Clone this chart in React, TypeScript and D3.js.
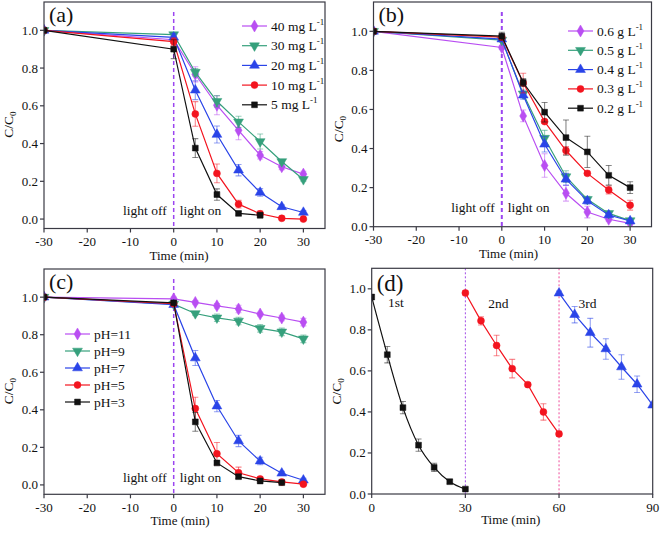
import React from "react";
import * as d3ns from "d3";

const d3: any = (d3ns as any).scaleLinear ? d3ns : (d3ns as any).default;

// ---------- data ----------
const timeLong = [-30, 0, 5, 10, 15, 20, 25, 30];
const timeA5 = [-30, 0, 5, 10, 15, 20];
const timeC3 = [-30, 0, 5, 10, 15, 20, 25];

const a40 = [1.0, 0.95, 0.767, 0.603, 0.47, 0.338, 0.277, 0.238];
const a40Err = [0, 0.01, 0.04, 0.05, 0.05, 0.02, 0.015, 0.015];
const a30 = [1.0, 0.977, 0.778, 0.624, 0.515, 0.411, 0.305, 0.21];
const a30Err = [0, 0.01, 0.02, 0.03, 0.03, 0.04, 0.01, 0.01];
const a20 = [1.0, 0.963, 0.683, 0.448, 0.259, 0.141, 0.065, 0.035];
const a20Err = [0, 0.02, 0.05, 0.045, 0.03, 0.02, 0.01, 0.01];
const a10 = [1.0, 0.94, 0.557, 0.242, 0.079, 0.028, 0.004, 0.0];
const a10Err = [0, 0.02, 0.065, 0.05, 0.02, 0.015, 0, 0];
const a5 = [1.0, 0.9, 0.376, 0.13, 0.03, 0.02];
const a5Err = [0, 0.05, 0.05, 0.03, 0.01, 0.01];
const legendA = ["40 mg L", "30 mg L", "20 mg L", "10 mg L", "5 mg L"];

const b06 = [1.0, 0.917, 0.567, 0.313, 0.171, 0.075, 0.038, 0.017];
const b06Err = [0, 0.01, 0.03, 0.06, 0.04, 0.03, 0.01, 0.005];
const b05 = [1.0, 0.955, 0.68, 0.453, 0.256, 0.14, 0.068, 0.031];
const b05Err = [0, 0.01, 0.02, 0.04, 0.03, 0.015, 0.01, 0.005];
const b04 = [1.0, 0.96, 0.673, 0.422, 0.243, 0.132, 0.06, 0.029];
const b04Err = [0, 0.01, 0.02, 0.04, 0.03, 0.015, 0.01, 0.005];
const b03 = [1.0, 0.97, 0.735, 0.538, 0.39, 0.273, 0.188, 0.11];
const b03Err = [0, 0.01, 0.05, 0.01, 0.02, 0.01, 0.02, 0.025];
const b02 = [1.0, 0.975, 0.738, 0.586, 0.456, 0.383, 0.263, 0.2];
const b02Err = [0, 0.02, 0.02, 0.05, 0.09, 0.08, 0.05, 0.03];
const legendB = ["0.6 g L", "0.5 g L", "0.4 g L", "0.3 g L", "0.2 g L"];

const c11 = [1.0, 0.991, 0.972, 0.954, 0.937, 0.91, 0.889, 0.867];
const c11Err = [0, 0.01, 0.01, 0.012, 0.02, 0.01, 0.015, 0.02];
const c9 = [1.0, 0.963, 0.913, 0.89, 0.873, 0.834, 0.815, 0.778];
const c9Err = [0, 0.01, 0.01, 0.02, 0.02, 0.02, 0.02, 0.02];
const c7 = [1.0, 0.96, 0.676, 0.42, 0.234, 0.127, 0.062, 0.025];
const c7Err = [0, 0.01, 0.04, 0.03, 0.03, 0.02, 0.01, 0.01];
const c5 = [1.0, 0.965, 0.407, 0.166, 0.065, 0.032, 0.016, 0.004];
const c5Err = [0, 0.01, 0.06, 0.06, 0.03, 0.01, 0.005, 0.005];
const c3 = [1.0, 0.97, 0.336, 0.117, 0.044, 0.021, 0.012];
const c3Err = [0, 0.01, 0.05, 0.01, 0.01, 0.005, 0.005];
const legendC = ["pH=11", "pH=9", "pH=7", "pH=5", "pH=3"];

const timeD1 = [0, 5, 10, 15, 20, 25, 30];
const timeD2 = [30, 35, 40, 45, 50, 55, 60];
const timeD3 = [60, 65, 70, 75, 80, 85, 90];
const d1 = [0.96, 0.679, 0.421, 0.238, 0.13, 0.06, 0.024];
const d1Err = [0, 0.04, 0.03, 0.03, 0.02, 0.01, 0.005];
const d2 = [0.98, 0.844, 0.724, 0.611, 0.533, 0.4, 0.293];
const d2Err = [0.01, 0.02, 0.05, 0.045, 0.01, 0.04, 0.012];
const d3v = [0.979, 0.874, 0.786, 0.707, 0.619, 0.535, 0.433];
const d3Err = [0.01, 0.04, 0.07, 0.05, 0.06, 0.04, 0.01];
const cycleLabels = ["1st", "2nd", "3rd"];

const xTicksABC = [-30, -20, -10, 0, 10, 20, 30];
const xTicksD = [0, 30, 60, 90];
const yTicks = [0, 0.2, 0.4, 0.6, 0.8, 1.0];

// ---------- styles ----------
const VIOLET = "#b94ef2";
const GREEN = "#36a07c";
const BLUE = "#2a44e8";
const RED = "#f3141f";
const BLACK = "#111111";
const AXIS = "#3a3a44";
const FONT = "Liberation Serif, Times New Roman, Times, serif";

type Shape = "diamond" | "down" | "up" | "circle" | "square";
interface Series {
  t: number[];
  v: number[];
  e: number[];
  color: string;
  shape: Shape;
  smooth?: boolean;
}

const symbolPath = (shape: Shape): string => {
  const s = d3.symbol();
  switch (shape) {
    case "diamond":
      return s.type(d3.symbolDiamond).size(42)();
    case "down":
    case "up":
      return s.type(d3.symbolTriangle).size(42)();
    case "circle":
      return s.type(d3.symbolCircle).size(38)();
    default:
      return s.type(d3.symbolSquare).size(34)();
  }
};

const Marker = ({ x, y, shape, color }: { x: number; y: number; shape: Shape; color: string }) => (
  <path
    d={symbolPath(shape)}
    transform={`translate(${x},${y})${shape === "down" ? " rotate(180)" : ""}`}
    fill={color}
    stroke={color}
    strokeWidth={0.5}
  />
);

interface PanelProps {
  id: string;
  l: number;
  t: number;
  r: number;
  b: number;
  xDomain: [number, number];
  yDomain: [number, number];
  xTicks: number[];
  label: string;
  labelDy: number;
  labelSize: number;
  series: Series[];
  legend?: { names: string[]; sup?: string; x0: number; y0: number; dy: number };
  vlines: { x: number; color: string; dash: string; width: number; fromTop: number }[];
  lightY?: number;
  texts?: { x: number; y: number; s: string }[];
  titleOffset: number;
  titleDy: number;
}

const Panel = (p: PanelProps) => {
  const x = d3.scaleLinear().domain(p.xDomain).range([p.l, p.r]);
  const y = d3.scaleLinear().domain(p.yDomain).range([p.b, p.t]);
  const fmt = d3.format(".1f");
  const clipId = `clip-${p.id}`;
  return (
    <g>
      <defs>
        <clipPath id={clipId}>
          <rect x={p.l} y={p.t} width={p.r - p.l} height={p.b - p.t} />
        </clipPath>
      </defs>
      {p.vlines.map((vl, i) => (
        <line
          key={i}
          x1={x(vl.x)}
          x2={x(vl.x)}
          y1={p.t + vl.fromTop}
          y2={p.b}
          stroke={vl.color}
          strokeWidth={vl.width}
          strokeDasharray={vl.dash}
        />
      ))}
      <g clipPath={`url(#${clipId})`}>
        {p.series.map((s, si) => {
          const pts: [number, number][] = s.t.map((tt, i) => [x(tt), y(s.v[i])]);
          const line = d3.line().curve(s.smooth ? d3.curveMonotoneX : d3.curveLinear)(pts);
          return (
            <g key={si}>
              <path d={line} fill="none" stroke={s.color} strokeWidth={1.2} />
              {s.t.map((tt, i) =>
                s.e[i] > 0 ? (
                  <g key={"e" + i} stroke={s.color} strokeOpacity={0.5} strokeWidth={1.1}>
                    <line x1={x(tt)} x2={x(tt)} y1={y(s.v[i] - s.e[i])} y2={y(s.v[i] + s.e[i])} />
                    <line x1={x(tt) - 3} x2={x(tt) + 3} y1={y(s.v[i] - s.e[i])} y2={y(s.v[i] - s.e[i])} />
                    <line x1={x(tt) - 3} x2={x(tt) + 3} y1={y(s.v[i] + s.e[i])} y2={y(s.v[i] + s.e[i])} />
                  </g>
                ) : null
              )}
              {s.t.map((tt, i) => (
                <Marker key={"m" + i} x={x(tt)} y={y(s.v[i])} shape={s.shape} color={s.color} />
              ))}
            </g>
          );
        })}
      </g>
      <rect x={p.l} y={p.t} width={p.r - p.l} height={p.b - p.t} fill="none" stroke={AXIS} strokeWidth={1.2} />
      {p.xTicks.map((v) => (
        <g key={"xt" + v}>
          <line x1={x(v)} x2={x(v)} y1={p.b} y2={p.b + 4} stroke={AXIS} strokeWidth={1.2} />
          <text x={x(v)} y={p.b + 17.5} textAnchor="middle" fontSize={13} fontFamily={FONT} fill="#111">
            {v}
          </text>
        </g>
      ))}
      {yTicks.map((v) => (
        <g key={"yt" + v}>
          <line x1={p.l - 4} x2={p.l} y1={y(v)} y2={y(v)} stroke={AXIS} strokeWidth={1.2} />
          <text x={p.l - 6} y={y(v) + 4.5} textAnchor="end" fontSize={13} fontFamily={FONT} fill="#111">
            {fmt(v)}
          </text>
        </g>
      ))}
      <text x={p.l + p.titleOffset} y={p.b + p.titleDy} textAnchor="middle" fontSize={13} fontFamily={FONT} fill="#111">
        Time (min)
      </text>
      <text
        transform={`translate(${p.l - 31},${y(0.5)}) rotate(-90)`}
        textAnchor="middle"
        fontSize={13.5}
        fontFamily={FONT}
        fill="#111"
      >
        C/C<tspan fontSize={9} dy={3}>0</tspan>
      </text>
      <text x={p.l + 5} y={p.t + p.labelDy} fontSize={p.labelSize} fontFamily={FONT} fill="#111">
        {p.label}
      </text>
      {p.lightY !== undefined && (
        <g fontSize={13.5} fontFamily={FONT} fill="#111">
          <text x={x(0) - 7} y={y(p.lightY)} textAnchor="end">
            light off
          </text>
          <text x={x(0) + 6} y={y(p.lightY)}>
            light on
          </text>
        </g>
      )}
      {p.texts?.map((tx, i) => (
        <text key={"tx" + i} x={x(tx.x)} y={y(tx.y)} fontSize={13.5} fontFamily={FONT} fill="#111">
          {tx.s}
        </text>
      ))}
      {p.legend &&
        p.legend.names.map((n, i) => {
          const s = p.series[i];
          const ly = p.legend!.y0 + i * p.legend!.dy;
          const lx = p.legend!.x0;
          return (
            <g key={"lg" + i}>
              <line x1={lx} x2={lx + 25} y1={ly} y2={ly} stroke={s.color} strokeWidth={1.2} />
              <Marker x={lx + 12.5} y={ly} shape={s.shape} color={s.color} />
              <text x={lx + 29} y={ly + 4.5} fontSize={13.5} fontFamily={FONT} fill="#111">
                {n}
                {p.legend!.sup && (
                  <tspan fontSize={9} dy={-6}>
                    {p.legend!.sup}
                  </tspan>
                )}
              </text>
            </g>
          );
        })}
    </g>
  );
};

export default function App() {
  const purpleDash = { x: 0, color: "#9b45f0", dash: "4,3", width: 1.5, fromTop: 10 };
  return (
    <svg
      width={661}
      height={533}
      style={{ position: "absolute", left: 0, top: 0, background: "#fff" }}
      xmlns="http://www.w3.org/2000/svg"
    >
      <rect width={661} height={533} fill="#fff" />
      <Panel
        id="a"
        l={44}
        t={2}
        r={325}
        b={228.5}
        xDomain={[-30, 35]}
        yDomain={[-0.05, 1.15]}
        xTicks={xTicksABC}
        label="(a)"
        labelDy={20}
        labelSize={22}
        series={[
          { t: timeLong, v: a40, e: a40Err, color: VIOLET, shape: "diamond" },
          { t: timeLong, v: a30, e: a30Err, color: GREEN, shape: "down" },
          { t: timeLong, v: a20, e: a20Err, color: BLUE, shape: "up" },
          { t: timeLong, v: a10, e: a10Err, color: RED, shape: "circle" },
          { t: timeA5, v: a5, e: a5Err, color: BLACK, shape: "square" },
        ]}
        legend={{ names: legendA, sup: "-1", x0: 242, y0: 26, dy: 19.7 }}
        vlines={[purpleDash]}
        lightY={0.02}
        titleOffset={135}
        titleDy={31}
      />
      <Panel
        id="b"
        l={373.5}
        t={2}
        r={651.5}
        b={226.7}
        xDomain={[-30, 35]}
        yDomain={[0, 1.15]}
        xTicks={xTicksABC}
        label="(b)"
        labelDy={20}
        labelSize={22}
        series={[
          { t: timeLong, v: b06, e: b06Err, color: VIOLET, shape: "diamond" },
          { t: timeLong, v: b05, e: b05Err, color: GREEN, shape: "down" },
          { t: timeLong, v: b04, e: b04Err, color: BLUE, shape: "up" },
          { t: timeLong, v: b03, e: b03Err, color: RED, shape: "circle" },
          { t: timeLong, v: b02, e: b02Err, color: BLACK, shape: "square" },
        ]}
        legend={{ names: legendB, sup: "-1", x0: 568, y0: 31, dy: 19.3 }}
        vlines={[{ ...purpleDash, width: 2 }]}
        lightY={0.075}
        titleOffset={135}
        titleDy={31.5}
      />
      <Panel
        id="c"
        l={44}
        t={269}
        r={325}
        b={494.3}
        xDomain={[-30, 35]}
        yDomain={[-0.05, 1.15]}
        xTicks={xTicksABC}
        label="(c)"
        labelDy={20}
        labelSize={22}
        series={[
          { t: timeLong, v: c11, e: c11Err, color: VIOLET, shape: "diamond" },
          { t: timeLong, v: c9, e: c9Err, color: GREEN, shape: "down" },
          { t: timeLong, v: c7, e: c7Err, color: BLUE, shape: "up" },
          { t: timeLong, v: c5, e: c5Err, color: RED, shape: "circle" },
          { t: timeC3, v: c3, e: c3Err, color: BLACK, shape: "square" },
        ]}
        legend={{ names: legendC, x0: 65, y0: 334, dy: 17 }}
        vlines={[purpleDash]}
        lightY={0.017}
        titleOffset={136}
        titleDy={31}
      />
      <Panel
        id="d"
        l={371.7}
        t={268.3}
        r={652.7}
        b={494}
        xDomain={[0, 90]}
        yDomain={[0, 1.1]}
        xTicks={xTicksD}
        label="(d)"
        labelDy={23}
        labelSize={23}
        series={[
          { t: timeD1, v: d1, e: d1Err, color: BLACK, shape: "square", smooth: true },
          { t: timeD2, v: d2, e: d2Err, color: RED, shape: "circle" },
          { t: timeD3, v: d3v, e: d3Err, color: BLUE, shape: "up" },
        ]}
        vlines={[
          { x: 30, color: "#a24be6", dash: "2,2", width: 1, fromTop: 0 },
          { x: 60, color: "#ee4c9a", dash: "2,2", width: 1, fromTop: 0 },
        ]}
        texts={[
          { x: 5.2, y: 0.912, s: cycleLabels[0] },
          { x: 37.3, y: 0.905, s: cycleLabels[1] },
          { x: 66.2, y: 0.905, s: cycleLabels[2] },
        ]}
        titleOffset={139}
        titleDy={30}
      />
    </svg>
  );
}
